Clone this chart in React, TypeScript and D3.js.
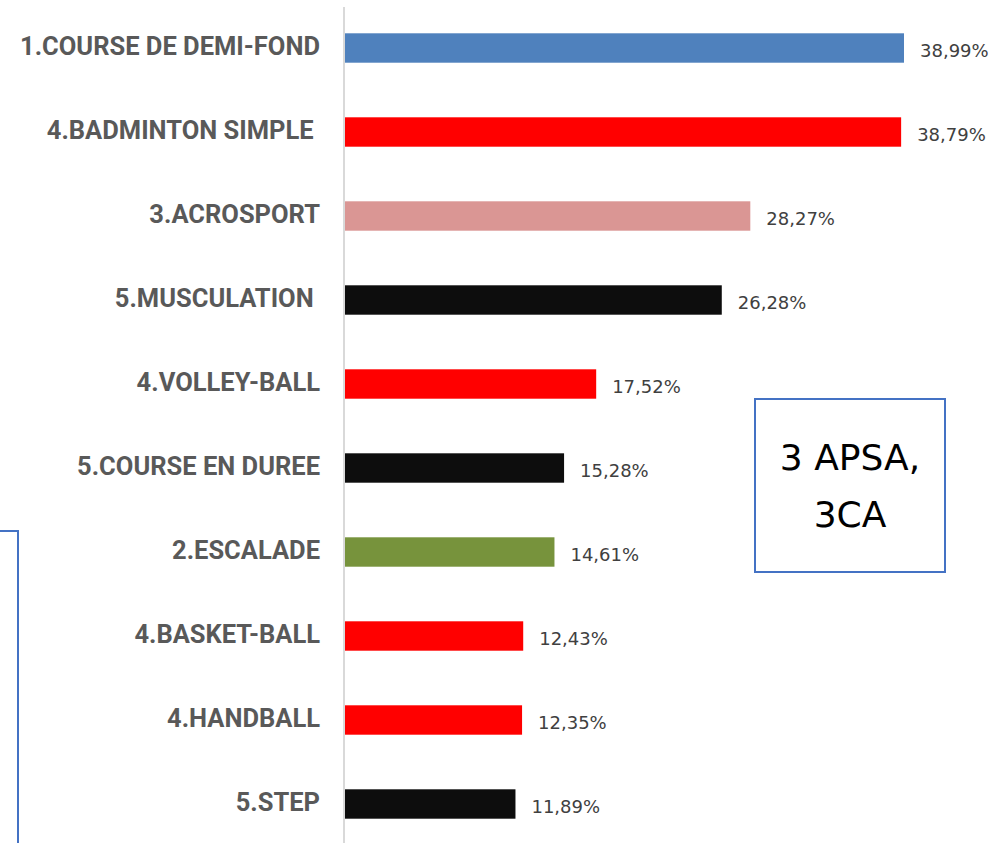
import React from "react";
import * as d3 from "d3";

const categories = [
  "1.COURSE DE DEMI-FOND",
  "4.BADMINTON SIMPLE ",
  "3.ACROSPORT",
  "5.MUSCULATION ",
  "4.VOLLEY-BALL",
  "5.COURSE EN DUREE",
  "2.ESCALADE",
  "4.BASKET-BALL",
  "4.HANDBALL",
  "5.STEP",
];
const values = [38.99, 38.79, 28.27, 26.28, 17.52, 15.28, 14.61, 12.43, 12.35, 11.89];
const valueLabels = ["38,99%", "38,79%", "28,27%", "26,28%", "17,52%", "15,28%", "14,61%", "12,43%", "12,35%", "11,89%"];
const barColors = ["#4F81BD", "#FF0000", "#DA9694", "#0D0D0D", "#FF0000", "#0D0D0D", "#77933C", "#FF0000", "#FF0000", "#0D0D0D"];
const boxLines = ["3 APSA,", "3CA"];

export default function App() {
  const W = 999, H = 843;
  const x = d3.scaleLinear().domain([0, 38.99]).range([345, 904]);
  const y = d3.scaleBand().domain(categories).range([6, 846]).paddingInner(0.65).paddingOuter(0.325);
  const bh = y.bandwidth();
  return (
    <svg width={W} height={H} style={{ position: "absolute", left: 0, top: 0 }}>
      <rect x={0} y={0} width={W} height={H} fill="#fff" />
      <line x1={344} x2={344} y1={7} y2={843} stroke="#D9D9D9" strokeWidth={2} />
      {categories.map((c, i) => {
        const yy = y(c)!;
        const cy = yy + bh / 2;
        return (
          <g key={c}>
            <rect x={x(0)} y={yy} width={x(values[i]) - x(0)} height={bh} fill={barColors[i]} />
            <g transform={`translate(320,${cy + 7.2}) scale(1.02,1)`}>
              <text x={0} y={0} textAnchor="end" fontFamily="Roboto, 'Liberation Sans', sans-serif" fontWeight="bold" fontSize={25} fill="#595959" style={{ whiteSpace: "pre" }}>
                {c}
              </text>
            </g>
            <text x={x(values[i]) + 16} y={cy + 9.2} fontFamily="'DejaVu Sans', sans-serif" fontSize={18} fill="#404040">
              {valueLabels[i]}
            </text>
          </g>
        );
      })}
      <rect x={755} y={399} width={190} height={173} fill="#fff" stroke="#4472C4" strokeWidth={2} />
      {boxLines.map((t, i) => (
        <text key={t} x={850} y={470 + i * 57} textAnchor="middle" fontFamily="'DejaVu Sans', sans-serif" fontSize={36} fill="#000">
          {t}
        </text>
      ))}
      <polyline points="0,531 18,531 18,843" fill="none" stroke="#4472C4" strokeWidth={2} />
    </svg>
  );
}
